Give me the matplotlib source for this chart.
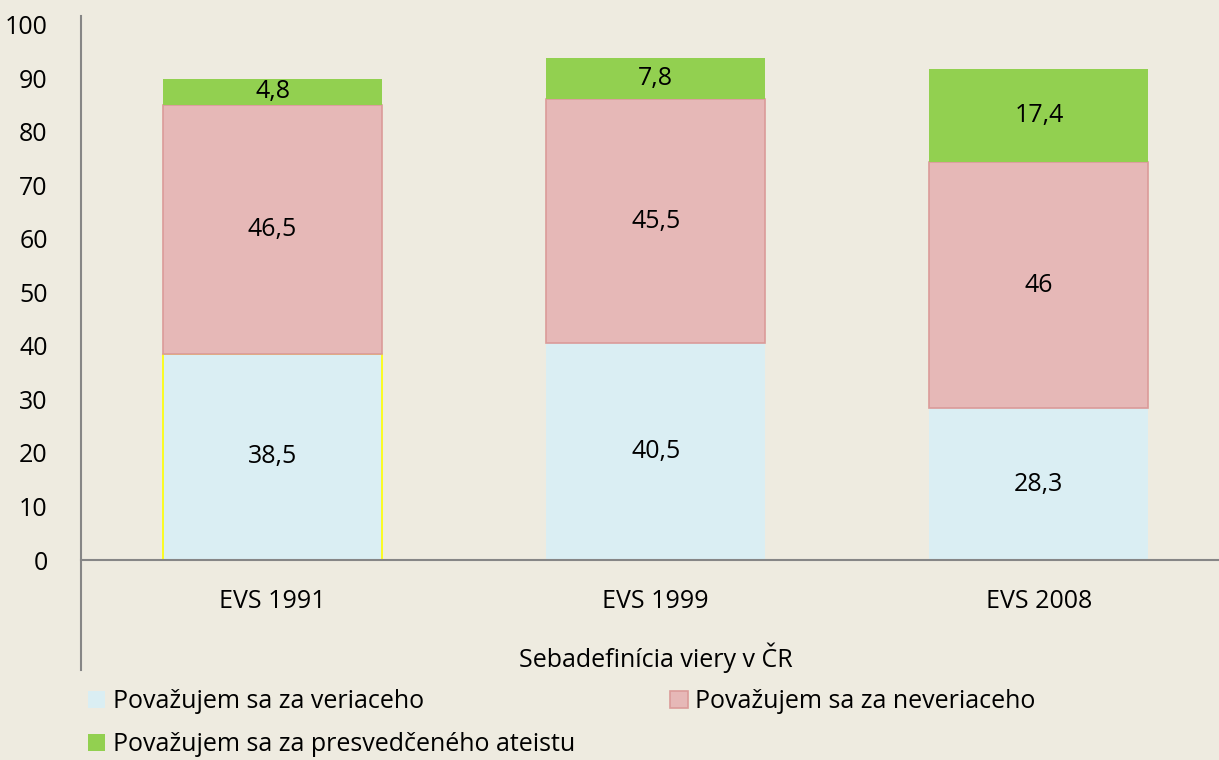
import numpy as np
import matplotlib
matplotlib.use("Agg")
import matplotlib.pyplot as plt
from matplotlib.lines import Line2D

plt.rcParams['font.family'] = ['Open Sans', 'DejaVu Sans']

categories = ['EVS 1991', 'EVS 1999', 'EVS 2008']
veriaci = [38.5, 40.5, 28.3]
neveriaci = [46.5, 45.5, 46.0]
ateisti = [4.8, 7.8, 17.4]
series_names = ['Považujem sa za veriaceho', 'Považujem sa za neveriaceho',
                'Považujem sa za presvedčeného ateistu']
axis_title = 'Sebadefinícia viery v ČR'

bg = '#EEEBE0'
c_blue = '#DAEEF3'
c_pink = '#E6B8B7'
c_green = '#92D050'

def fmt(v):
    s = ('%.1f' % v).replace('.', ',')
    if s.endswith(',0'):
        s = s[:-2]
    return s

fig = plt.figure(figsize=(12.19, 7.60), dpi=100, facecolor=bg)
ax = fig.add_axes([81/1219, 1-560/760, 1-81/1219, (560-24.5)/760])
ax.set_facecolor(bg)

x = np.arange(len(categories))
w = 0.572
b1 = ax.bar(x, veriaci, w, color=c_blue, edgecolor='none')
# yellow side lines on first bar (as in the original)
ax.bar(x[:1], veriaci[:1], w, color='none', edgecolor='#FFFF00', linewidth=1.2)
bottom2 = np.array(veriaci)
b2 = ax.bar(x, neveriaci, w, bottom=bottom2, color=c_pink, edgecolor='#DB9B99', linewidth=1.2)
bottom3 = bottom2 + np.array(neveriaci)
b3 = ax.bar(x, ateisti, w, bottom=bottom3, color=c_green, edgecolor='none')

fs = 18
for i in range(len(x)):
    ax.text(x[i], veriaci[i] / 2, fmt(veriaci[i]), ha='center', va='center', fontsize=fs)
    ax.text(x[i], bottom2[i] + neveriaci[i] / 2, fmt(neveriaci[i]), ha='center', va='center', fontsize=fs)
    ax.text(x[i], bottom3[i] + ateisti[i] / 2, fmt(ateisti[i]), ha='center', va='center', fontsize=fs)

ax.set_ylim(0, 100)
ax.set_xlim(-0.5, 2.47)
ax.set_yticks(np.arange(0, 101, 10))
ax.tick_params(axis='y', length=0, labelsize=fs, pad=24)
ax.set_xticks([])
for s in ['top', 'right', 'left']:
    ax.spines[s].set_visible(False)
ax.spines['bottom'].set_color('#868686')
ax.spines['bottom'].set_linewidth(1.5)

# category labels and axis title
for i, c in enumerate(categories):
    ax.text(x[i], -7.8, c, ha='center', va='center', fontsize=fs)
ax.text(1, -18.2, axis_title, ha='center', va='center', fontsize=fs)

# left axis line extends down past the category labels
ax.add_line(Line2D([-0.5, -0.5], [-20.5, 101.5], color='#868686', linewidth=1.5, clip_on=False))

handles = [b1, b3, b2]
labels = [series_names[0], series_names[2], series_names[1]]
fig.legend(handles, labels, ncol=2, loc='upper left', bbox_to_anchor=(0.0638, 0.106),
           frameon=False, fontsize=fs, handlelength=0.7, handleheight=0.7,
           handletextpad=0.3, columnspacing=3.8, labelspacing=0.72, borderaxespad=0)

fig.savefig('out.png', dpi=100, facecolor=bg)
